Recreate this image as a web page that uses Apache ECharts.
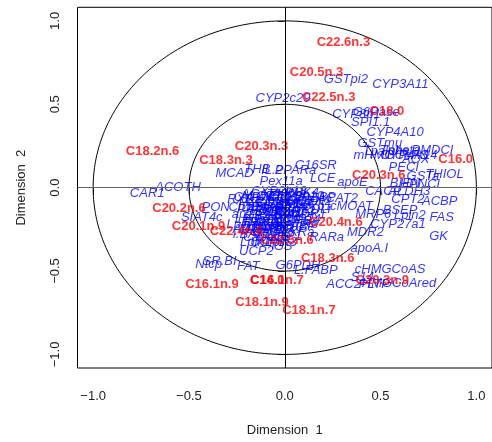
<!DOCTYPE html>
<html><head><meta charset="utf-8">
<script src="https://cdn.jsdelivr.net/npm/echarts@6/dist/echarts.min.js"></script>
<style>html,body{margin:0;padding:0;background:#fff}#c{width:492px;height:442px}</style>
</head><body><div id="c"></div>
<script>
const tickValues = [-1.0, -0.5, 0.0, 0.5, 1.0];
const circleRadii = [1.0, 0.5];

const lipidNames = ["C22.6n.3","C20.5n.3","C22.5n.3","C18.0","C16.0","C20.3n.6","C18.2n.6","C20.3n.3","C18.3n.3","C20.2n.6","C20.1n.9","C22.4n.6","C22.5n.6","C20.4n.6","C18.3n.6","C20.3n.9","C16.1n.7","C14.0","C16.1n.9","C18.1n.9","C18.1n.7"];
const lipidX = [0.306,0.166,0.229,0.533,0.892,0.491,-0.690,-0.121,-0.307,-0.552,-0.450,-0.252,0.012,0.267,0.224,0.509,-0.040,-0.092,-0.380,-0.119,0.126];
const lipidY = [0.871,0.689,0.541,0.455,0.170,0.071,0.217,0.250,0.164,-0.123,-0.232,-0.261,-0.319,-0.208,-0.426,-0.559,-0.559,-0.557,-0.582,-0.687,-0.737];

const geneNames = ["GSTpi2","CYP3A11","CYP2c29","CYP8b1","G6Pase","SPI1.1","CYP4A10","GSTmu","Tpalpha","Tpbeta","mHMGCoAS","CYP4A14","AOX","PMDCI","PECI","THIOL","GSTa","HPNCL","BIEN","CACP","CPT2","ACBP","BSEP","Lpin2","MRP6","CYP27a1","FAS","MDR2","GK","apoA.I","cHMGCoAS","ACC2","PLTP","HMGCoAred","S14","L.FABP","G6PDH","RARa","cMOAT","ACAT2","C16SR","PPARa","IL.2","THB","MCAD","Pex11a","LCE","apoE","ACOTH","CAR1","PON","SIAT4c","Ntcp","SR.BI","FAT","UCP2","GS",
"X36b4","ACAT1","ACC1","ADISP","ADSS1","AM2R","BACT","Bcl.3","CBS","CIDEA","COX1","COX2","CYP24","CYP26","CYP27b1","CYP2b10","CYP2b13","CYP7a","FDFT","FXR","LDLr","LPK","LPL","LXRa","LXRb","Lpin","Lpin1","Lpin3","M.CPT1","MDR1","MS","MTHFR","NGFiB","NURR1","OCTN2","PAL","PDK4","PPARd","PPARg","PXR","RARb2","RXRa","RXRb2","RXRg1","SHP1","TRa","TRb","UCP3","VDR","VLDLr","Waf1","ap2","apoB","apoC3","c.fos","eif2g","hABC1","i.BABP","i.BAT","i.FABP","i.NOS","mABC1","ALDH3"];
const geneX = [0.319,0.603,-0.009,0.374,0.477,0.448,0.576,0.496,0.529,0.602,0.555,0.648,0.684,0.771,0.621,0.834,0.721,0.715,0.627,0.514,0.643,0.809,0.602,0.653,0.462,0.591,0.819,0.421,0.803,0.441,0.550,0.307,0.467,0.596,0.405,0.162,0.069,0.219,0.348,0.276,0.162,0.056,-0.066,-0.143,-0.262,-0.019,0.198,0.353,-0.557,-0.718,-0.361,-0.433,-0.397,-0.340,-0.190,-0.148,-0.009,
-0.10,-0.12,-0.05,-0.17,-0.02,0.05,-0.08,0.02,-0.14,-0.19,-0.06,0.00,0.08,-0.11,0.10,0.06,-0.03,-0.16,0.03,-0.09,-0.13,-0.04,-0.20,0.07,-0.07,-0.24,-0.15,-0.02,-0.10,0.12,-0.01,-0.12,0.04,-0.06,0.13,-0.18,0.09,-0.08,-0.14,0.01,-0.04,-0.21,0.05,-0.11,0.00,-0.16,0.11,-0.09,-0.02,0.15,-0.05,-0.22,0.02,-0.07,-0.13,0.08,-0.03,0.16,-0.19,0.06,-0.10,0.03,0.65];
const geneY = [0.649,0.620,0.537,0.442,0.452,0.392,0.333,0.263,0.216,0.222,0.192,0.192,0.168,0.223,0.121,0.079,0.065,0.020,0.026,-0.022,-0.068,-0.080,-0.139,-0.165,-0.159,-0.218,-0.177,-0.266,-0.291,-0.365,-0.490,-0.582,-0.582,-0.575,-0.539,-0.499,-0.468,-0.301,-0.113,-0.064,0.131,0.105,0.105,0.109,0.085,0.039,0.058,0.030,0.000,-0.037,-0.120,-0.178,-0.463,-0.440,-0.475,-0.380,-0.355,
-0.12,-0.04,-0.21,-0.25,-0.15,-0.10,-0.27,-0.24,-0.17,-0.12,-0.09,-0.06,-0.19,-0.30,-0.11,-0.05,-0.02,-0.06,-0.15,-0.19,-0.23,-0.28,-0.19,-0.27,-0.14,-0.22,-0.33,-0.33,-0.05,-0.16,-0.10,-0.25,-0.20,-0.24,-0.08,-0.09,-0.03,-0.16,-0.13,-0.18,-0.12,-0.07,-0.14,-0.21,-0.29,-0.21,-0.22,-0.33,-0.25,-0.13,-0.06,-0.16,-0.03,-0.30,-0.09,-0.09,-0.19,-0.06,-0.28,-0.23,-0.24,-0.08,-0.02];

const LIM = 1.0816;
const FONT = "'Liberation Sans', Arial, Helvetica, sans-serif";

function circlePts(r){
  const pts=[];
  for(let i=0;i<=360;i++){const a=i*Math.PI/180;pts.push([r*Math.cos(a), r*Math.sin(a)]);}
  return pts;
}
function fmt(v){const s=Math.abs(v).toFixed(1);return v<0?'\u2212'+s:s;}

const chart = echarts.init(document.getElementById('c'), null, {renderer:'canvas'});
const axisCommon = {
  type:'value', min:-LIM, max:LIM,
  axisLine:{show:false}, splitLine:{show:false},
  axisTick:{show:true, length:7, lineStyle:{color:'#333', width:1}, customValues: tickValues},
  axisLabel:{show:true, customValues: tickValues, formatter: fmt, color:'#222', fontSize:13, fontFamily:FONT},
  nameLocation:'middle', nameTextStyle:{color:'#222', fontSize:13, fontFamily:FONT}
};
const option = {
  animation:false,
  backgroundColor:'#fff',
  grid:{left:77.5, top:7.3, width:418.2, height:364, show:true, borderColor:'#000', borderWidth:1, containLabel:false},
  xAxis: Object.assign({}, axisCommon, {name:'Dimension  1', nameGap:56,
    axisLabel: Object.assign({}, axisCommon.axisLabel, {margin:22})}),
  yAxis: Object.assign({}, axisCommon, {name:'Dimension  2', nameGap:50, nameRotate:90,
    axisLabel: Object.assign({}, axisCommon.axisLabel, {margin:16, rotate:90})}),
  series: [
    ...circleRadii.map(r => ({type:'line', data:circlePts(r), showSymbol:false, symbol:'none', silent:true,
      lineStyle:{color:'#000', width:1}, z:1})),
    {type:'line', data:[], silent:true, z:1,
      markLine:{silent:true, symbol:['none','none'], label:{show:false},
        data:[{xAxis:0, lineStyle:{color:'#000', width:1, type:'solid'}},
              {yAxis:0, lineStyle:{color:'#666', width:1, type:'solid'}}]}},
    {type:'scatter', z:3, symbolSize:1, itemStyle:{color:'rgba(0,0,0,0)'},
      data: geneNames.map((n,i)=>({name:n, value:[geneX[i], geneY[i]]})),
      label:{show:true, position:'inside', formatter:'{b}', color:'#0000ff', fontSize:13, fontStyle:'italic', fontFamily:FONT}},
    {type:'scatter', z:4, symbolSize:1, itemStyle:{color:'rgba(0,0,0,0)'},
      data: lipidNames.map((n,i)=>({name:n, value:[lipidX[i], lipidY[i]]})),
      label:{show:true, position:'inside', formatter:'{b}', color:'#ff0000', fontSize:13, fontWeight:'bold', fontFamily:FONT}}
  ]
};
chart.setOption(option);
</script>
</body></html>
